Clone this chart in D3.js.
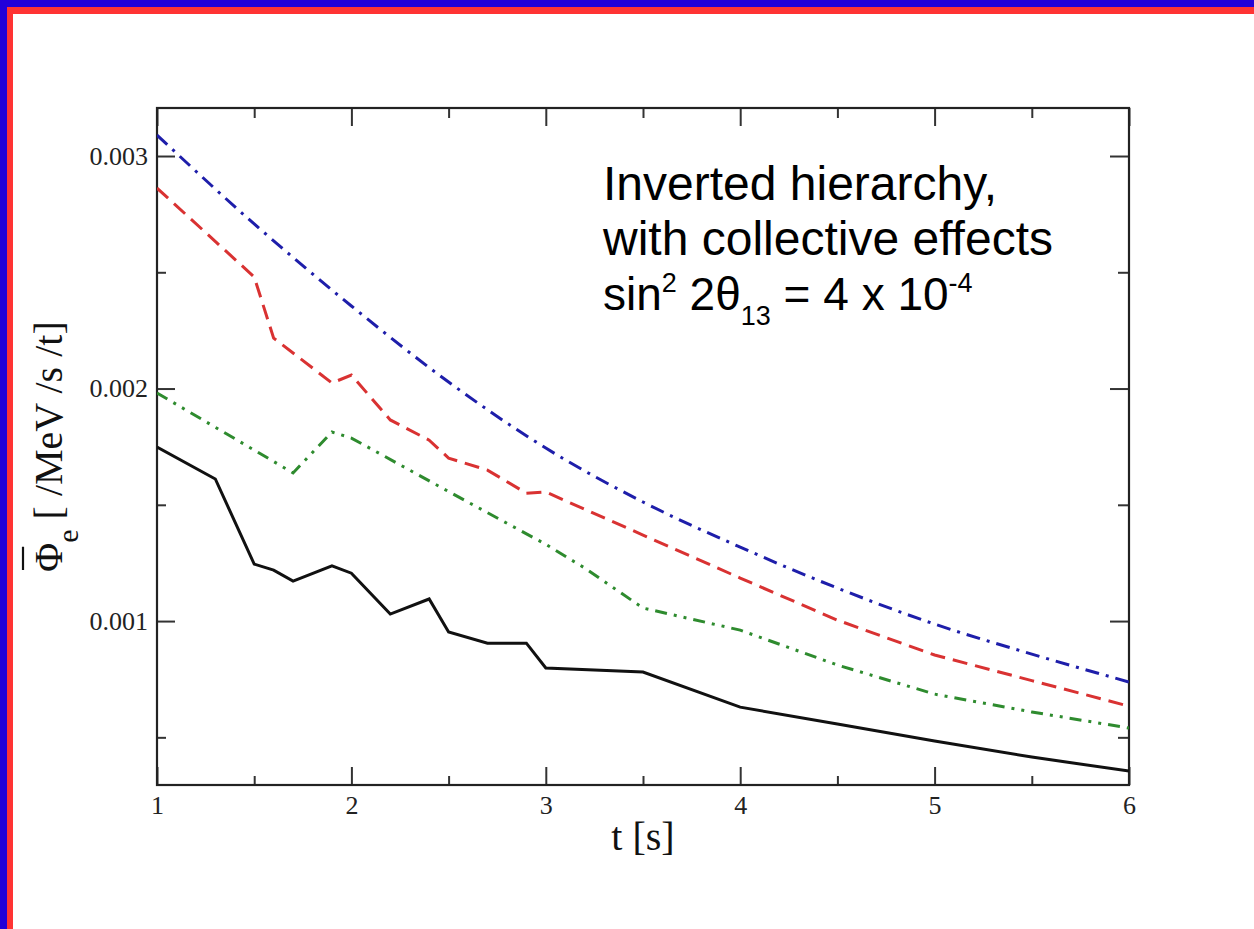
<!DOCTYPE html>
<html><head><meta charset="utf-8">
<script src="https://cdn.jsdelivr.net/npm/d3@7"></script>
<style>body{margin:0;background:#fff;} svg{display:block;}</style>
</head><body>
<svg id="chart" width="1254" height="929"></svg>
<script>
// ---- data ----
const xTicks = [1, 2, 3, 4, 5, 6];
const xTickLabels = ["1", "2", "3", "4", "5", "6"];
const xMinorTicks = [1.5, 2.5, 3.5, 4.5, 5.5];
const yTicks = [0.001, 0.002, 0.003];
const yTickLabels = ["0.001", "0.002", "0.003"];
const yMinorTicks = [0.0005, 0.0015, 0.0025];

const tBlue   = [1.0, 1.5, 2.0, 2.5, 3.0, 3.5, 4.0, 4.5, 5.0, 5.5, 6.0];
const phiBlue = [0.003090, 0.002708, 0.002355, 0.002028, 0.001744, 0.001512, 0.001318, 0.001142, 0.000987, 0.000858, 0.000738];

const tRed   = [1.0, 1.5, 1.6, 1.9, 2.0, 2.2, 2.4, 2.5, 2.7, 2.9, 3.0, 3.5, 4.0, 4.5, 5.0, 5.5, 6.0];
const phiRed = [0.002862, 0.002480, 0.002217, 0.002024, 0.002058, 0.001865, 0.001778, 0.001701, 0.001649, 0.001550, 0.001555, 0.001370, 0.001185, 0.001004, 0.000854, 0.000744, 0.000634];

const tGreen   = [1.0, 1.7, 1.9, 2.0, 2.5, 3.0, 3.2, 3.5, 4.0, 4.5, 5.0, 5.5, 6.0];
const phiGreen = [0.001981, 0.001637, 0.001813, 0.001787, 0.001557, 0.001330, 0.001228, 0.001056, 0.000961, 0.000811, 0.000686, 0.000609, 0.000540];

const tBlack   = [1.0, 1.3, 1.5, 1.6, 1.7, 1.9, 2.0, 2.2, 2.4, 2.5, 2.7, 2.9, 3.0, 3.5, 4.0, 4.5, 5.0, 5.5, 6.0];
const phiBlack = [0.001748, 0.001611, 0.001245, 0.001219, 0.001172, 0.001237, 0.001206, 0.001030, 0.001095, 0.000953, 0.000905, 0.000905, 0.000798, 0.000781, 0.000630, 0.000557, 0.000484, 0.000415, 0.000355];

const annotationLines = ["Inverted hierarchy,", "with collective effects"];

// ---- layout ----
const W = 1254, H = 929;
const plot = {left: 157, right: 1129, top: 108, bottom: 785};
const svg = d3.select("#chart");

// slide frame (top + left only)
svg.append("rect").attr("x", 0).attr("y", 0).attr("width", W).attr("height", 7).attr("fill", "#2200d8");
svg.append("rect").attr("x", 0).attr("y", 0).attr("width", 7).attr("height", H).attr("fill", "#2200d8");
svg.append("rect").attr("x", 7).attr("y", 7).attr("width", W - 7).attr("height", 7).attr("fill", "#ff3333");
svg.append("rect").attr("x", 7).attr("y", 7).attr("width", 6).attr("height", H - 7).attr("fill", "#ff3333");

const x = d3.scaleLinear().domain([1, 6]).range([plot.left, plot.right]);
const y = d3.scaleLinear().domain([0.000295, 0.0032065]).range([plot.bottom, plot.top]);

svg.append("clipPath").attr("id", "clip").append("rect")
  .attr("x", plot.left).attr("y", plot.top)
  .attr("width", plot.right - plot.left).attr("height", plot.bottom - plot.top);

const serif = "'Liberation Serif','Times New Roman',serif";
const sans = "'Liberation Sans',Arial,sans-serif";

function styleAxis(g) {
  g.select(".domain").remove();
  g.selectAll(".tick line").attr("stroke", "#333").attr("stroke-width", 2);
  g.selectAll(".tick text").attr("fill", "#222").style("font-family", serif).style("font-size", "26px");
}

// bottom axis
svg.append("g").attr("transform", `translate(0,${plot.bottom})`)
  .call(d3.axisBottom(x).tickValues(xTicks).tickSize(-18).tickPadding(11)
    .tickFormat((d, i) => xTickLabels[i]))
  .call(styleAxis);
svg.append("g").attr("transform", `translate(0,${plot.bottom})`)
  .call(d3.axisBottom(x).tickValues(xMinorTicks).tickSize(-9).tickFormat(""))
  .call(styleAxis);
// top axis
svg.append("g").attr("transform", `translate(0,${plot.top})`)
  .call(d3.axisTop(x).tickValues(xTicks).tickSize(-18).tickFormat(""))
  .call(styleAxis);
svg.append("g").attr("transform", `translate(0,${plot.top})`)
  .call(d3.axisTop(x).tickValues(xMinorTicks).tickSize(-10).tickFormat(""))
  .call(styleAxis);
// left axis
svg.append("g").attr("transform", `translate(${plot.left},0)`)
  .call(d3.axisLeft(y).tickValues(yTicks).tickSize(-18).tickPadding(9)
    .tickFormat((d, i) => yTickLabels[i]))
  .call(styleAxis);
svg.append("g").attr("transform", `translate(${plot.left},0)`)
  .call(d3.axisLeft(y).tickValues(yMinorTicks).tickSize(-9).tickFormat(""))
  .call(styleAxis);
// right axis
svg.append("g").attr("transform", `translate(${plot.right},0)`)
  .call(d3.axisRight(y).tickValues(yTicks).tickSize(-19).tickFormat(""))
  .call(styleAxis);
svg.append("g").attr("transform", `translate(${plot.right},0)`)
  .call(d3.axisRight(y).tickValues(yMinorTicks).tickSize(-11).tickFormat(""))
  .call(styleAxis);

// frame
svg.append("rect").attr("x", plot.left).attr("y", plot.top)
  .attr("width", plot.right - plot.left).attr("height", plot.bottom - plot.top)
  .attr("fill", "none").attr("stroke", "#222").attr("stroke-width", 2.2);

// series
const series = [
  {t: tBlue, v: phiBlue, color: "#1e1eaa", dash: "14,7,3,7", curve: d3.curveMonotoneX},
  {t: tRed, v: phiRed, color: "#d93232", dash: "15,8", curve: d3.curveLinear},
  {t: tGreen, v: phiGreen, color: "#2e8b2e", dash: "12,7,3,7,3,7", curve: d3.curveLinear},
  {t: tBlack, v: phiBlack, color: "#111", dash: null, curve: d3.curveLinear}
];
const lines = svg.append("g").attr("clip-path", "url(#clip)");
series.forEach(s => {
  const pts = s.t.map((t, i) => [t, s.v[i]]);
  lines.append("path")
    .attr("d", d3.line().x(d => x(d[0])).y(d => y(d[1])).curve(s.curve)(pts))
    .attr("fill", "none").attr("stroke", s.color).attr("stroke-width", 3)
    .attr("stroke-dasharray", s.dash);
});

// x title
svg.append("text").attr("x", (plot.left + plot.right) / 2).attr("y", 850)
  .attr("text-anchor", "middle").style("font-family", serif).style("font-size", "40px")
  .attr("fill", "#111").text("t [s]");

// y title
const yt = svg.append("g").attr("transform", "translate(62,572) rotate(-90)");
const ytText = yt.append("text").attr("x", 0).attr("y", 0)
  .style("font-family", serif).style("font-size", "40px").attr("fill", "#111");
ytText.append("tspan").text("Φ");
ytText.append("tspan").attr("dy", 16).style("font-size", "30px").text("e");
ytText.append("tspan").attr("dy", -16).text(" [ /MeV /s /t]");
const n = ytText.node();
const s0 = n.getStartPositionOfChar(0).x, e0 = n.getEndPositionOfChar(0).x;
yt.append("line").attr("x1", s0 + 2).attr("x2", e0 - 4).attr("y1", -39).attr("y2", -39)
  .attr("stroke", "#111").attr("stroke-width", 2.2);

// annotation
const ann = svg.append("g").style("font-family", sans).attr("fill", "#000");
annotationLines.forEach((l, i) => {
  ann.append("text").attr("x", 603).attr("y", 200 + i * 55).style("font-size", "48px").text(l);
});
const a3 = ann.append("text").attr("x", 603).attr("y", 310).style("font-size", "46px");
a3.append("tspan").text("sin");
a3.append("tspan").attr("dy", -18).style("font-size", "27px").text("2");
a3.append("tspan").attr("dy", 18).text(" 2θ");
a3.append("tspan").attr("dy", 15).style("font-size", "27px").text("13");
a3.append("tspan").attr("dy", -15).text(" = 4 x 10");
a3.append("tspan").attr("dy", -18).style("font-size", "27px").text("-4");
</script>
</body></html>
